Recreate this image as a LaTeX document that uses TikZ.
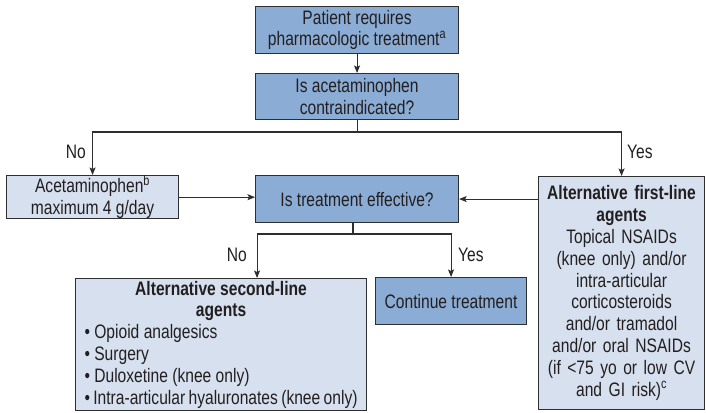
\documentclass[tikz,border=0pt]{standalone}
\usepackage{fontspec}
\setmainfont{Liberation Sans}[FakeStretch=0.8]
\usetikzlibrary{arrows.meta}
\setlength\parindent{0pt}
\definecolor{boxdark}{HTML}{8BADD5}
\definecolor{boxlight}{HTML}{D6E0EF}
\definecolor{edge}{HTML}{2E2E2E}
\definecolor{ink}{HTML}{231F20}
\newcommand\flowfont{\fontsize{19.5}{21.8}\selectfont}
\begin{document}
\begin{tikzpicture}[x=1pt, y=-1pt,
  box/.style={draw=edge, line width=1.1pt, inner sep=0pt, anchor=north west,
    align=center, text=ink, font=\flowfont},
  darkbox/.style={box, fill=boxdark},
  lightbox/.style={box, fill=boxlight},
  link/.style={draw=edge, line width=1.1pt},
  arrowlink/.style={link, -{Stealth[length=7.5pt, width=6pt, inset=1.5pt]}},
  branchlabel/.style={inner sep=0pt, text=ink, font=\flowfont}]
\useasboundingbox (0,0) rectangle (706,412);

% decision chain
\node[darkbox, minimum width=203pt, minimum height=47pt] (start) at (255,6)
  {Patient requires\\pharmacologic treatment\textsuperscript{a}};
\node[darkbox, minimum width=203pt, minimum height=46pt] (contra) at (255,73)
  {Is acetaminophen\\contraindicated?};
\node[lightbox, minimum width=172pt, minimum height=42pt] (acet) at (6,175)
  {Acetaminophen\textsuperscript{b}\\maximum 4 g/day};
\node[darkbox, minimum width=203pt, minimum height=47pt] (effective) at (255,175)
  {Is treatment effective?};
\node[lightbox, minimum width=166pt, minimum height=233pt, text width=160pt] (firstline) at (538,176)
  {\textbf{Alternative first-line}\\\textbf{agents}\\Topical NSAIDs\\(knee only) and/or\\intra-articular\\corticosteroids\\and/or tramadol\\and/or oral NSAIDs\\(if <75 yo or low CV\\and GI risk)\textsuperscript{c}};
\node[lightbox, align=none, minimum width=291pt, minimum height=132pt, inner xsep=9pt, text width=273pt] (secondline) at (75,278)
  {{\centering\bfseries Alternative second-line\\agents\par}%
   \raggedright
   \textbullet\ Opioid analgesics\\
   \textbullet\ Surgery\\
   \textbullet\ Duloxetine (knee only)\\
   \textbullet\ Intra-articular hyaluronates (knee only)};
\node[darkbox, minimum width=151pt, minimum height=47pt] (continue) at (375,277)
  {Continue treatment};

% connectors
\coordinate (fork1) at (356,132);
\coordinate (fork2) at (353,234);
\draw[arrowlink] (start) -- (contra);
\draw[link] (contra.south) -- (contra.south |- fork1);
\draw[arrowlink] (contra.south |- fork1) -| (acet.north);
\draw[arrowlink] (contra.south |- fork1) -| (firstline.north);
\draw[arrowlink] (acet.east) -- (acet.east -| effective.west);
\draw[arrowlink] (firstline.west |- effective.west) -- (effective.east);
\draw[link] (effective.south -| fork2) -- (fork2);
\draw[arrowlink] (fork2) -| ([xshift=36pt]secondline.north);
\draw[arrowlink] (fork2) -| (continue.north);

% branch labels
\node[branchlabel, anchor=east] (no1) at (86,152) {No};
\node[branchlabel, anchor=west] (yes1) at (627,152) {Yes};
\node[branchlabel, anchor=east] (no2) at (247,255) {No};
\node[branchlabel, anchor=west] (yes2) at (458,255) {Yes};
\end{tikzpicture}
\end{document}
